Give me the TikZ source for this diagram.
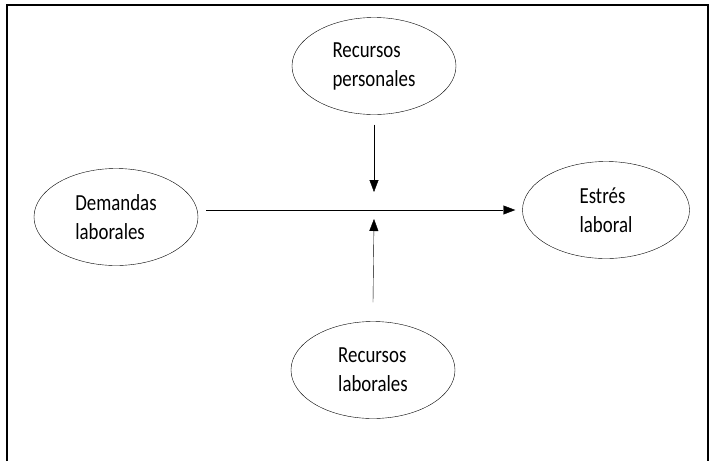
\documentclass[tikz,border=0pt]{standalone}
\usepackage{fontspec}
\setmainfont{Carlito}[FakeStretch=0.82]
\usepackage{tikz}
\usetikzlibrary{shapes.geometric, arrows.meta, positioning, calc}
\tikzstyle{bubble} = [draw, ellipse, thin, minimum width=164pt, minimum height=97pt, inner sep=0pt, align=left, font=\fontsize{23}{29}\selectfont]
\tikzstyle{wire} = [-{Triangle[length=12pt,width=9pt]}, thin]
\tikzstyle{frame} = [line width=1.5pt]

\begin{document}
\begin{tikzpicture}[x=1pt, y=-1pt]
    \useasboundingbox (0,0) rectangle (714,461);
    \draw[frame] (7,461) -- (7,5) -- (708,5) -- (708,461);
    \node[bubble] (pers) at (374,66) {Recursos\\personales};
    \node[bubble] (dem) at (116,217) {Demandas\\laborales};
    \node[bubble, minimum width=167pt] (estres) at (606,210) {Estrés\\laboral};
    \node[bubble] (lab) at (373,370) {Recursos\\laborales};
    \coordinate (mid) at (pers |- estres);
    \draw[wire] ([xshift=8pt]dem.east |- estres) -- ([xshift=-7pt]estres.west);
    \draw[wire] ([yshift=-10pt]pers.south) -- ([yshift=18pt]mid);
    \draw[wire] ([yshift=19pt]lab.north) -- ([yshift=-9pt]mid);
  \end{tikzpicture}
\end{document}
